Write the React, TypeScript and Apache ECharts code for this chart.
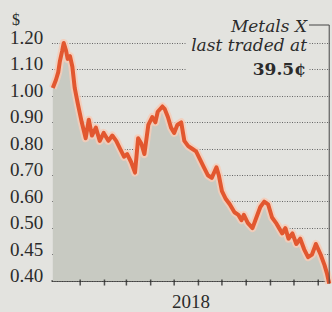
import React, { useEffect, useRef } from "react";
import * as echarts from "echarts";

const startDate = "2017-11-26";
const endDate = "2018-11-16";

const dates = [
  "2017-11-27", "2017-12-01", "2017-12-04", "2017-12-06", "2017-12-09", "2017-12-11",
  "2017-12-14", "2017-12-16", "2017-12-19", "2017-12-22", "2017-12-25", "2017-12-29",
  "2018-01-03", "2018-01-08", "2018-01-12", "2018-01-16", "2018-01-21", "2018-01-26",
  "2018-01-31", "2018-02-06", "2018-02-11", "2018-02-16", "2018-02-21", "2018-02-26",
  "2018-03-02", "2018-03-07", "2018-03-12", "2018-03-16", "2018-03-20", "2018-03-24",
  "2018-03-29", "2018-04-03", "2018-04-07", "2018-04-10", "2018-04-16", "2018-04-19",
  "2018-04-23", "2018-04-27", "2018-05-01", "2018-05-05", "2018-05-10", "2018-05-14",
  "2018-05-19", "2018-05-24", "2018-05-29", "2018-06-03", "2018-06-08", "2018-06-13",
  "2018-06-18", "2018-06-24", "2018-06-27", "2018-07-01", "2018-07-06", "2018-07-11",
  "2018-07-17", "2018-07-22", "2018-07-26", "2018-07-29", "2018-08-03", "2018-08-09",
  "2018-08-14", "2018-08-19", "2018-08-24", "2018-08-29", "2018-09-03", "2018-09-08",
  "2018-09-12", "2018-09-16", "2018-09-20", "2018-09-24", "2018-09-29", "2018-10-04",
  "2018-10-09", "2018-10-14", "2018-10-19", "2018-10-24", "2018-10-29", "2018-11-04",
  "2018-11-09", "2018-11-12", "2018-11-15",
];

const prices = [
  1.03, 1.06, 1.09, 1.13, 1.17, 1.2,
  1.17, 1.14, 1.15, 1.11, 1.03, 0.97,
  0.9, 0.84, 0.91, 0.85, 0.88, 0.83,
  0.86, 0.83, 0.85, 0.83, 0.8, 0.77,
  0.78, 0.75, 0.71, 0.84, 0.82, 0.78,
  0.89, 0.92, 0.9, 0.94, 0.96, 0.95,
  0.92, 0.88, 0.86, 0.89, 0.9, 0.83,
  0.81, 0.8, 0.79, 0.76, 0.73, 0.7,
  0.69, 0.73, 0.7, 0.64, 0.61, 0.59,
  0.56, 0.55, 0.53, 0.55, 0.52, 0.5,
  0.54, 0.58, 0.6, 0.59, 0.54, 0.52,
  0.5, 0.49, 0.5, 0.48, 0.49, 0.47,
  0.48, 0.46, 0.445, 0.45, 0.47, 0.45,
  0.43, 0.415, 0.395,
];

const monthTicks = [
  "2018-01-01", "2018-02-01", "2018-03-01", "2018-04-01", "2018-05-01", "2018-06-01",
  "2018-07-01", "2018-08-01", "2018-09-01", "2018-10-01", "2018-11-01",
];

const yTickValues = [0.4, 0.45, 0.5, 0.6, 0.7, 0.8, 0.9, 1.0, 1.1, 1.2];
const yTickLabels = ["0.40", "0.45", "0.50", "0.60", "0.70", "0.80", "0.90", "1.00", "1.10", "1.20"];

const yearLabel = "2018";
const companyName = "Metals X";
const tradedText = "last traded at";

const PAPER = "#e3e3df";
const INK = "#2b2b2b";
const LINE = "#e2572f";

const DAY = 86400000;
const dayOf = (d: string) => (Date.parse(d) - Date.parse(startDate)) / DAY;

// piecewise position on the evenly spaced (irregular) price scale
const level = (v: number) => {
  const t = yTickValues;
  let i = 0;
  if (v <= t[0]) i = 0;
  else if (v >= t[t.length - 1]) i = t.length - 2;
  else {
    while (i < t.length - 2 && v > t[i + 1]) i++;
  }
  return i + (v - t[i]) / (t[i + 1] - t[i]);
};

export default function App() {
  const ref = useRef<HTMLDivElement>(null);

  useEffect(() => {
    if (!ref.current) return;
    const chart = echarts.init(ref.current, undefined, { renderer: "svg" });
    const pts = dates.map((d, i) => [dayOf(d), level(prices[i])]);
    const last = pts[pts.length - 1];
    const lastPrice = prices[prices.length - 1];
    const tickPts = monthTicks.map((m) => [dayOf(m), 0]);

    const textGraphics = [
      { id: "bg", type: "rect", z: 10, silent: true, shape: { x: 186, y: 14, width: 122, height: 68 }, style: { fill: PAPER } },
      {
        id: "t1", type: "text", z: 11, x: 307, y: 26,
        style: { text: companyName, fontFamily: "DejaVu Serif", fontStyle: "italic", fontSize: 17, fill: INK, align: "right", verticalAlign: "middle" },
      },
      {
        id: "t2", type: "text", z: 11, x: 307, y: 45,
        style: { text: tradedText, fontFamily: "DejaVu Serif", fontStyle: "italic", fontSize: 17, fill: INK, align: "right", verticalAlign: "middle" },
      },
      {
        id: "t3", type: "text", z: 11, x: 306, y: 69,
        style: { text: (lastPrice * 100).toFixed(1) + "¢", fontFamily: "DejaVu Serif", fontWeight: "bold", fontSize: 17, fill: INK, align: "right", verticalAlign: "middle" },
      },
      {
        id: "t4", type: "text", z: 11, x: 12, y: 19,
        style: { text: "$", fontFamily: "Liberation Serif", fontSize: 16, fill: INK, align: "left", verticalAlign: "middle" },
      },
    ];

    chart.setOption({
      animation: false,
      backgroundColor: PAPER,
      grid: { left: 52, right: 2, top: 43, bottom: 31, outerBoundsMode: "none", containLabel: false },
      xAxis: {
        type: "value",
        min: 0,
        max: dayOf(endDate),
        name: yearLabel,
        nameLocation: "middle",
        nameGap: 11,
        nameTextStyle: { fontFamily: "Liberation Serif", fontSize: 19, color: INK },
        axisLine: { show: true, lineStyle: { color: "#333", width: 1.5 } },
        axisTick: { show: false },
        axisLabel: { show: false },
        splitLine: { show: false },
      },
      yAxis: {
        type: "value",
        min: 0,
        max: 9,
        interval: 1,
        axisLine: { show: false },
        axisTick: { show: false },
        axisLabel: {
          align: "left",
          margin: 42,
          verticalAlign: "bottom",
          lineHeight: 11,
          fontFamily: "Liberation Serif",
          fontSize: 19,
          color: INK,
          formatter: (v: number) => yTickLabels[Math.round(v)] ?? "",
        },
        splitLine: { show: true, lineStyle: { color: "#666", width: 1, type: [1, 1.5] } },
      },
      series: [
        {
          type: "line",
          data: pts,
          showSymbol: false,
          clip: false,
          z: 2,
          lineStyle: { color: "rgba(246,205,185,0.85)", width: 8, join: "round" },
          areaStyle: { color: "#c8cac2", opacity: 1 },
          silent: true,
        },
        {
          type: "line",
          data: pts,
          showSymbol: false,
          clip: false,
          z: 3,
          lineStyle: { color: LINE, width: 4, join: "round" },
          silent: true,
        },
        {
          // month tick marks on the date axis
          type: "scatter",
          data: tickPts,
          symbol: "rect",
          symbolSize: [1.5, 6],
          symbolOffset: [0, 1.5],
          itemStyle: { color: "#2b2b2b" },
          clip: false,
          z: 4,
          silent: true,
        },
      ],
      graphic: textGraphics,
    });

    // leader line from the label to the last traded point
    const pLast = chart.convertToPixel({ gridIndex: 0 }, last) as number[];
    const topY = 25;
    chart.setOption({
      graphic: [
        ...textGraphics,
        {
          id: "lead", type: "polyline", z: 9, silent: true,
          shape: { points: [[309, topY], [pLast[0], topY], [pLast[0], pLast[1]]] },
          style: { stroke: "#444", lineWidth: 1, fill: null },
        },
      ],
    });

    return () => chart.dispose();
  }, []);

  return (
    <div
      ref={ref}
      style={{ position: "fixed", left: 0, top: 0, width: 332, height: 312, background: PAPER }}
    />
  );
}
